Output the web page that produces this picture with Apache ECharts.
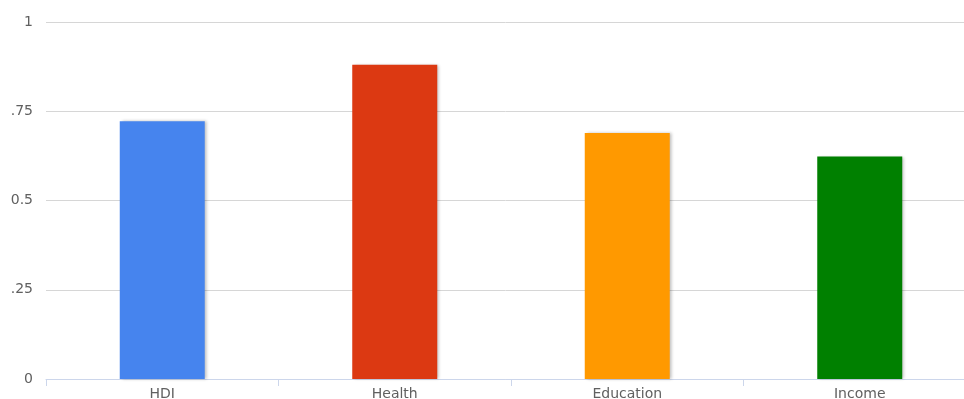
<!DOCTYPE html>
<html><head><meta charset="utf-8">
<script src="https://cdn.jsdelivr.net/npm/echarts@6/dist/echarts.min.js"></script>
<style>html,body{margin:0;padding:0;background:#fff}#c{width:964px;height:399px}</style>
</head><body><div id="c"></div>
<script>
const categories = ['HDI', 'Health', 'Education', 'Income'];
const values = [0.722, 0.880, 0.689, 0.623];
const colors = ['#4684ee', '#dc3912', '#ff9900', '#008000'];
const yTickLabels = {0: '0', 0.25: '.25', 0.5: '0.5', 0.75: '.75', 1: '1'};

const chart = echarts.init(document.getElementById('c'));
chart.setOption({
  animation: false,
  grid: {left: 46, width: 930, top: 22, height: 357, containLabel: false, outerBoundsMode: 'none'},
  xAxis: {
    type: 'category',
    data: categories,
    axisLine: {lineStyle: {color: '#ccd6eb', width: 1}},
    axisTick: {show: true, length: 7, lineStyle: {color: '#ccd6eb'}},
    axisLabel: {color: '#606060', fontFamily: 'DejaVu Sans', fontSize: 14, margin: 8}
  },
  yAxis: {
    type: 'value',
    min: 0, max: 1, interval: 0.25,
    axisLine: {show: false},
    axisTick: {show: false},
    splitLine: {lineStyle: {color: '#d6d6d6', width: 1}},
    axisLabel: {
      color: '#606060', fontFamily: 'DejaVu Sans', fontSize: 14, margin: 13,
      formatter: v => yTickLabels[v] !== undefined ? yTickLabels[v] : String(v)
    }
  },
  series: [{
    type: 'bar',
    data: values.map((v, i) => ({value: v, itemStyle: {color: colors[i]}})),
    barWidth: 85,
    itemStyle: {shadowColor: 'rgba(0,0,0,0.25)', shadowBlur: 3, shadowOffsetX: 2, shadowOffsetY: 0}
  }]
});
</script></body></html>
